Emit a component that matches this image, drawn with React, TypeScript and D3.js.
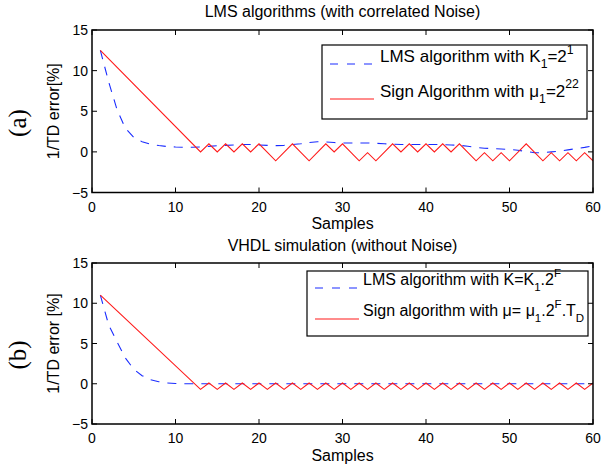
import React from 'react';
import * as d3 from 'd3';

const xTicks = [0, 10, 20, 30, 40, 50, 60];
const yTicks = [-5, 0, 5, 10, 15];

const samples = d3.range(1, 61);

const lmsTop = [
  12.5, 8.6, 5.2, 2.9, 1.8, 1.25, 0.95, 0.78, 0.66, 0.6,
  0.57, 0.57, 0.6, 0.68, 0.75, 0.8, 0.85, 0.9, 0.9, 0.85,
  0.8, 0.77, 0.8, 0.9, 1.0, 1.15, 1.25, 1.22, 1.15, 1.1,
  1.1, 1.1, 1.1, 1.05, 1.0, 0.95, 0.9, 0.9, 0.9, 0.9,
  0.9, 0.9, 0.85, 0.8, 0.7, 0.55, 0.45, 0.4, 0.35, 0.3,
  0.2, 0.05, -0.1, -0.1, 0.0, 0.1, 0.25, 0.4, 0.55, 0.75,
];

const signTopX = [1, 13, 14, 15, 16, 17, 18, 19, 20, 22, 24, 26, 28, 29, 30, 32, 33, 34, 36, 37, 38, 39, 40, 41, 42, 43, 44, 46, 47, 48, 49, 50, 52, 54, 55, 56, 57, 58, 59, 60];
const signTopY = [12.5, 0, 1, 0, 1, 0, 1, 0, 1, -1.1, 1, -1.1, 1, 0, 1, -1.1, -0.1, -1.1, 1, 0, 1, 0, 1, 0, 1, 0, 1, -1.1, -0.1, -1.1, -0.1, -1.1, 1, -1.1, -0.1, -1.1, -0.1, -1.1, -0.1, -1.1];

const lmsBottom = [
  11, 7.3, 5.2, 3.2, 1.8, 1.0, 0.5, 0.25, 0.1, 0.04,
  0, 0, 0, 0, 0, 0, 0, 0, 0, 0,
  0, 0, 0, 0, 0, 0, 0, 0, 0, 0,
  0, 0, 0, 0, 0, 0, 0, 0, 0, 0,
  0, 0, 0, 0, 0, 0, 0, 0, 0, 0,
  0, 0, 0, 0, 0, 0, 0, 0, 0, 0,
];

const signBottomX = [1, 13, 14, 15, 16, 17, 18, 19, 20, 21, 22, 23, 24, 25, 26, 27, 28, 29, 30, 31, 32, 33, 34, 35, 36, 37, 38, 39, 40, 41, 42, 43, 44, 45, 46, 47, 48, 49, 50, 51, 52, 53, 54, 55, 56, 57, 58, 59, 60];
const signBottomY = [11,
  -0.7, 0.1, -0.7, 0.1, -0.7, 0.1, -0.7, 0.1, -0.7, 0.1,
  -0.7, 0.1, -0.7, 0.1, -0.7, 0.1, -0.7, 0.1, -0.7, 0.1,
  -0.7, 0.1, -0.7, 0.1, -0.7, 0.1, -0.7, 0.1, -0.7, 0.1,
  -0.7, 0.1, -0.7, 0.1, -0.7, 0.1, -0.7, 0.1, -0.7, 0.1,
  -0.7, 0.1, -0.7, 0.1, -0.7, 0.1, -0.7, 0.1,
];

const FONT = '"Liberation Sans", Arial, Helvetica, sans-serif';
const BLUE = '#1a2cff';
const RED = '#ff1a1a';

type Part = [string, string?];

function RichText({ x, y, parts, fontSize }: { x: number; y: number; parts: Part[]; fontSize: number }) {
  let cur = 0;
  return (
    <text x={x} y={y} fontSize={fontSize} fontFamily={FONT} fill="#000">
      {parts.map(([t, k], i) => {
        const off = k === 'sub' ? fontSize * 0.38 : k === 'sup' ? -fontSize * 0.5 : 0;
        const dy = off - cur;
        cur = off;
        return (
          <tspan key={i} dy={dy} fontSize={k ? fontSize * 0.72 : fontSize}>
            {t}
          </tspan>
        );
      })}
    </text>
  );
}

type PanelProps = {
  id: string;
  top: number;
  bottom: number;
  title: string;
  titleY: number;
  ylabel: string;
  letter: string;
  letterY: number;
  samplesY: number;
  lmsY: number[];
  signX: number[];
  signY: number[];
  legend: {
    x0: number; x1: number; y0: number; y1: number;
    lineX0: number; lineX1: number; textX: number;
    row1Line: number; row1Base: number; row2Line: number; row2Base: number;
    fontSize: number;
    text1: Part[]; text2: Part[];
  };
};

const LEFT = 92;
const RIGHT = 593;

function Panel(p: PanelProps) {
  const x = d3.scaleLinear().domain([0, 60]).range([LEFT, RIGHT]);
  const y = d3.scaleLinear().domain([-5, 15]).range([p.bottom, p.top]);
  const line = d3.line<[number, number]>().x((d) => x(d[0])).y((d) => y(d[1]));
  const lmsPath = line(samples.map((s, i) => [s, p.lmsY[i]] as [number, number])) || '';
  const signPath = line(p.signX.map((s, i) => [s, p.signY[i]] as [number, number])) || '';
  const tl = 5;
  const L = p.legend;
  const midY = (p.top + p.bottom) / 2;
  const fmt = (v: number) => (v < 0 ? '\u2212' + Math.abs(v) : String(v));
  return (
    <g>
      <defs>
        <clipPath id={p.id}>
          <rect x={LEFT} y={p.top} width={RIGHT - LEFT} height={p.bottom - p.top} />
        </clipPath>
      </defs>
      <text x={(LEFT + RIGHT) / 2} y={p.titleY} textAnchor="middle" fontSize={16} fontFamily={FONT}>
        {p.title}
      </text>
      <g clipPath={`url(#${p.id})`}>
        <path d={lmsPath} fill="none" stroke={BLUE} strokeWidth={1.1} strokeDasharray="9,8" />
        <path d={signPath} fill="none" stroke={RED} strokeWidth={1.1} />
      </g>
      {xTicks.map((t) => (
        <g key={'x' + t}>
          <line x1={x(t)} x2={x(t)} y1={p.bottom} y2={p.bottom - tl} stroke="#000" strokeWidth={1} />
          <line x1={x(t)} x2={x(t)} y1={p.top} y2={p.top + tl} stroke="#000" strokeWidth={1} />
          <text x={x(t)} y={p.bottom + 19} textAnchor="middle" fontSize={14} fontFamily={FONT}>
            {fmt(t)}
          </text>
        </g>
      ))}
      {yTicks.map((t) => (
        <g key={'y' + t}>
          <line x1={LEFT} x2={LEFT + tl} y1={y(t)} y2={y(t)} stroke="#000" strokeWidth={1} />
          <line x1={RIGHT} x2={RIGHT - tl} y1={y(t)} y2={y(t)} stroke="#000" strokeWidth={1} />
          <text x={88} y={y(t)} dy="0.36em" textAnchor="end" fontSize={14} fontFamily={FONT}>
            {fmt(t)}
          </text>
        </g>
      ))}
      <rect x={LEFT} y={p.top} width={RIGHT - LEFT} height={p.bottom - p.top} fill="none" stroke="#000" strokeWidth={1.5} />
      <text x={(LEFT + RIGHT) / 2} y={p.samplesY} textAnchor="middle" fontSize={16} fontFamily={FONT}>
        Samples
      </text>
      <text transform={`translate(59,${midY}) rotate(-90)`} textAnchor="middle" fontSize={16} fontFamily={FONT}>
        {p.ylabel}
      </text>
      <text transform={`translate(26,${p.letterY}) rotate(-90)`} textAnchor="middle" fontSize={25} fontFamily='"Liberation Serif", "Times New Roman", serif'>
        {p.letter}
      </text>
      <rect x={L.x0} y={L.y0} width={L.x1 - L.x0} height={L.y1 - L.y0} fill="#fff" stroke="#000" strokeWidth={1.2} />
      <line x1={L.lineX0} x2={L.lineX1} y1={L.row1Line} y2={L.row1Line} stroke={BLUE} strokeWidth={1.1} strokeDasharray="8,9" />
      <line x1={L.lineX0} x2={L.lineX1} y1={L.row2Line} y2={L.row2Line} stroke={RED} strokeWidth={1.1} />
      <RichText x={L.textX} y={L.row1Base} parts={L.text1} fontSize={L.fontSize} />
      <RichText x={L.textX} y={L.row2Base} parts={L.text2} fontSize={L.fontSize} />
    </g>
  );
}

export default function App() {
  return (
    <svg width={602} height={468} style={{ position: 'absolute', left: 0, top: 0, background: '#fff' }}>
      <rect width={602} height={468} fill="#fff" />
      <Panel
        id="clipA"
        top={30}
        bottom={192.5}
        title="LMS algorithms (with correlated Noise)"
        titleY={17}
        ylabel="1/TD error[%]"
        letter="(a)"
        letterY={123}
        samplesY={229}
        lmsY={lmsTop}
        signX={signTopX}
        signY={signTopY}
        legend={{
          x0: 322, x1: 587, y0: 45, y1: 119,
          lineX0: 330, lineX1: 374, textX: 380,
          row1Line: 64, row1Base: 62, row2Line: 99, row2Base: 96.5,
          fontSize: 17,
          text1: [['LMS algorithm with K'], ['1', 'sub'], ['=2'], ['1', 'sup']],
          text2: [['Sign Algorithm with \u03bc'], ['1', 'sub'], ['=2'], ['22', 'sup']],
        }}
      />
      <Panel
        id="clipB"
        top={263}
        bottom={424}
        title="VHDL simulation (without Noise)"
        titleY={251}
        ylabel="1/TD error [%]"
        letter="(b)"
        letterY={355}
        samplesY={461}
        lmsY={lmsBottom}
        signX={signBottomX}
        signY={signBottomY}
        legend={{
          x0: 307, x1: 588, y0: 271, y1: 336,
          lineX0: 315, lineX1: 359, textX: 363,
          row1Line: 288, row1Base: 284.5, row2Line: 319, row2Base: 315.5,
          fontSize: 16,
          text1: [['LMS algorithm with K=K'], ['1', 'sub'], ['.2'], ['F', 'sup']],
          text2: [['Sign algorithm with \u03bc= \u03bc'], ['1', 'sub'], ['.2'], ['F', 'sup'], ['.T'], ['D', 'sub']],
        }}
      />
    </svg>
  );
}
